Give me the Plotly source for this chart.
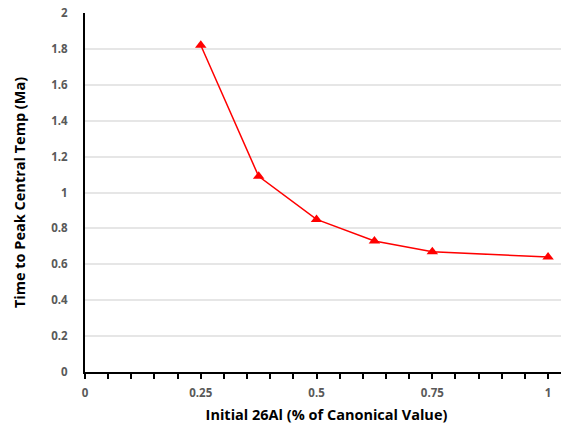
import plotly.graph_objects as go

x_vals = [0.25, 0.375, 0.5, 0.625, 0.75, 1.0]
y_vals = [1.82, 1.09, 0.85, 0.73, 0.67, 0.64]
x_ticks = [0, 0.25, 0.5, 0.75, 1]
x_labels = ["0", "0.25", "0.5", "0.75", "1"]
y_ticks = [0, 0.2, 0.4, 0.6, 0.8, 1, 1.2, 1.4, 1.6, 1.8, 2]
y_labels = ["0", "0.2", "0.4", "0.6", "0.8", "1", "1.2", "1.4", "1.6", "1.8", "2"]

fig = go.Figure()
fig.add_trace(go.Scatter(
    x=x_vals, y=y_vals, mode="lines+markers",
    line=dict(color="#ff0000", width=1.5),
    marker=dict(symbol="triangle-up", size=10, color="#ff0000"),
    showlegend=False,
))

tick_font = dict(family="Open Sans, Liberation Sans, sans-serif", size=11.5, color="#595959", weight="bold")
title_font = dict(family="Open Sans, Liberation Sans, sans-serif", size=14.5, color="#000000")

fig.update_layout(
    width=561, height=418,
    margin=dict(l=77, r=1, t=5, b=54),
    paper_bgcolor="white", plot_bgcolor="white",
    xaxis=dict(
        range=[0, 1.043], tickvals=x_ticks, ticktext=x_labels,
        showgrid=False, zeroline=False, automargin=False,
        showline=True, linecolor="#000000", linewidth=2,
        ticks="outside", ticklen=5, tickcolor="#000000", tickwidth=1.5,
        minor=dict(ticks="outside", dtick=0.05, ticklen=5, tickcolor="#000000", tickwidth=1.5, showgrid=False),
        tickfont=tick_font, ticklabelstandoff=4, ticklabeloverflow="allow",
        title=dict(text="<b>Initial 26Al (% of Canonical Value)</b>", font=title_font, standoff=11),
    ),
    yaxis=dict(
        range=[0, 2], tickvals=y_ticks, ticktext=y_labels,
        showgrid=True, gridcolor="#e6e6e6", gridwidth=1.5,
        zeroline=False, automargin=False,
        showline=True, linecolor="#000000", linewidth=2,
        ticks="", tickfont=tick_font, ticklabelstandoff=13, ticklabeloverflow="allow",
        title=dict(text="<b>Time to Peak Central Temp (Ma)</b>", font=title_font, standoff=22),
    ),
)

fig.write_html("out.html")
